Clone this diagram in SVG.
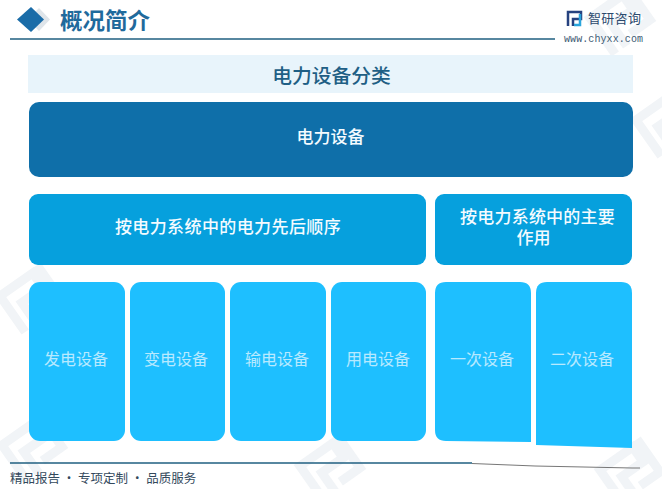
<svg xmlns="http://www.w3.org/2000/svg" width="662" height="489" viewBox="0 0 662 489">
<defs>
<g id="wm" fill="none" stroke="#f1f4f7" stroke-width="9">
<path d="M0 44V0H40V18H14V44"/>
<path d="M48 -4V36H24"/>
</g>
</defs>
<style>
.s{font-family:"Noto Sans CJK SC","Noto Sans CJK JP",sans-serif}
.b{font-weight:500;fill:#f4fbff;font-size:17px;text-anchor:middle}
.l{font-weight:400;fill:#f2fbff;opacity:.72;font-size:16px;text-anchor:middle}
.leaf{fill:#1ebfff}
.mid{fill:#06a0dd}
</style>
<rect width="662" height="489" fill="#fff"/>
<g id="watermark">
<use href="#wm" transform="translate(0 296) rotate(-35)"/>
<use href="#wm" transform="translate(300 466) rotate(-35)"/>
<use href="#wm" transform="translate(636 120) rotate(-35)"/>
<use href="#wm" transform="translate(600 470) rotate(-35)"/>
<use href="#wm" transform="translate(2 445) rotate(-35)"/>
<use href="#wm" transform="translate(590 18) rotate(-35)"/>
</g>
<g id="header">
<path d="M39 8L50 19.500L39 31L28 19.500Z" fill="#dfe5ea"/>
<path d="M31 7L44 19.500L31 32L17 19.500Z" fill="#1a6ca8"/>
<text x="60" y="29" class="s" font-size="22.500" font-weight="600" fill="#1f6a9c">概况简介</text>
<line x1="10" y1="39" x2="555" y2="39" stroke="#1f5f80" stroke-width="1.300"/>
</g>
<g id="logo">
<path d="M568 26V12H581V19H573V26" fill="none" stroke="#26427f" stroke-width="2.500"/>
<path d="M580 14V25H574" fill="none" stroke="#2aa5dc" stroke-width="2.500"/>
<text x="588" y="23" class="s" font-size="13" fill="#2c4a6e" letter-spacing=".3">智研咨询</text>
<text x="564" y="42" font-family="Liberation Mono,monospace" font-size="10" fill="#3d5a73" letter-spacing=".08">www.chyxx.com</text>
</g>
<g id="title">
<rect x="28" y="55" width="605" height="38" fill="#e8f4fb"/>
<text x="331.500" y="83" class="s" font-size="19.800" font-weight="500" fill="#1f5f85" text-anchor="middle">电力设备分类</text>
</g>
<g id="root">
<rect x="29" y="102" width="604" height="75" rx="10" fill="#0f6fa9"/>
<text x="330.500" y="143" class="s b">电力设备</text>
</g>
<g id="group-order">
<rect class="mid" x="29" y="194" width="397" height="71" rx="9"/>
<text x="228" y="233" class="s b" letter-spacing=".4">按电力系统中的电力先后顺序</text>
</g>
<g id="group-role">
<rect class="mid" x="435" y="194" width="197" height="71" rx="9"/>
<text x="537.500" y="223" class="s b" letter-spacing=".2">按电力系统中的主要</text>
<text x="533.500" y="244" class="s b">作用</text>
</g>
<g id="n1"><rect class="leaf" x="29" y="282" width="96" height="159" rx="11"/><text x="76" y="365" class="s l">发电设备</text></g>
<g id="n2"><rect class="leaf" x="130" y="282" width="95" height="159" rx="11"/><text x="176" y="365" class="s l">变电设备</text></g>
<g id="n3"><rect class="leaf" x="230" y="282" width="96" height="159" rx="11"/><text x="277" y="365" class="s l">输电设备</text></g>
<g id="n4"><rect class="leaf" x="331" y="282" width="95" height="159" rx="11"/><text x="378" y="365" class="s l">用电设备</text></g>
<g id="n5"><path class="leaf" d="M446 282H520Q531 282 531 293V442L446 441Q435 441 435 430V293Q435 282 446 282Z"/><text x="482" y="365" class="s l">一次设备</text></g>
<g id="n6"><path class="leaf" d="M547 282H621Q632 282 632 293V448L536 445V293Q536 282 547 282Z"/><text x="582" y="365" class="s l">二次设备</text></g>
<g id="footer">
<line x1="10" y1="463" x2="472" y2="463" stroke="#1f5f80" stroke-width="1.300"/>
<path d="M472 463.500L535 466L632 468H640" fill="none" stroke="#777" stroke-width="1"/>
<text x="10" y="483" class="s" font-size="12.500" fill="#33495c">精品报告 · 专项定制 · 品质服务</text>
</g>
<g id="connectors"/>
</svg>
